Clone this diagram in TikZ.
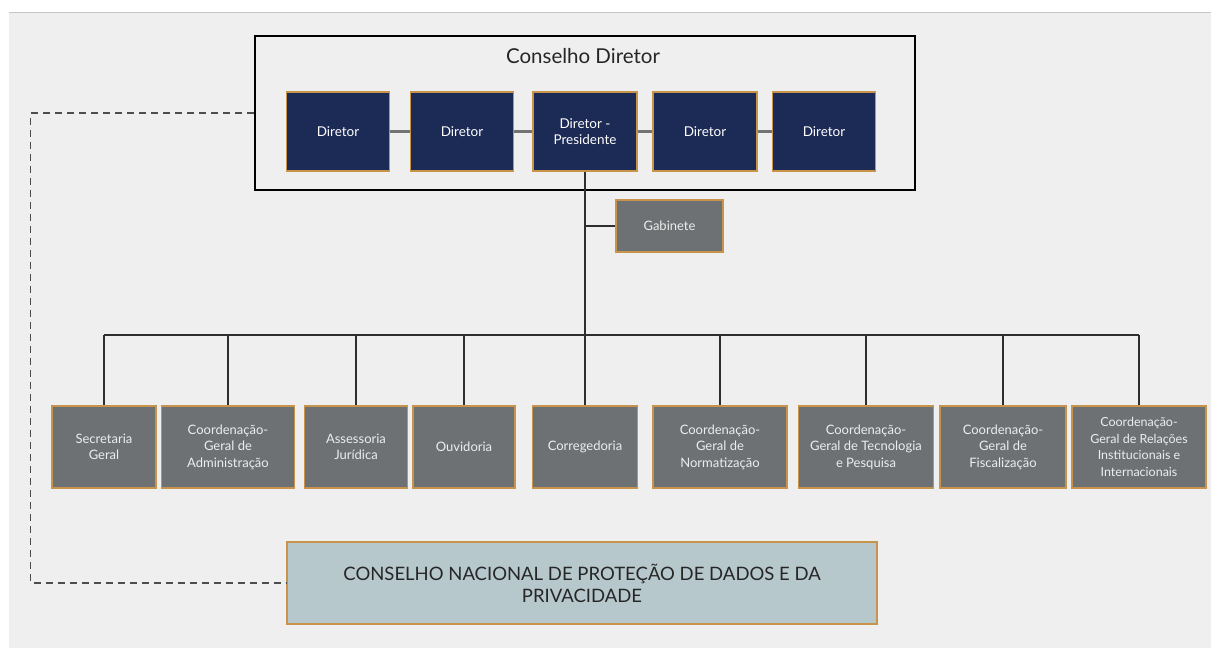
\documentclass[tikz,border=0pt]{standalone}
\usepackage{fontspec}
\setmainfont{Lato}
\definecolor{navy}{HTML}{1C2A56}
\definecolor{boxgray}{HTML}{6E7174}
\definecolor{gold}{HTML}{C8934A}
\definecolor{cnpdfill}{HTML}{B7C8CD}
\definecolor{panel}{HTML}{EFEFEF}
\definecolor{linedark}{HTML}{2E2E2E}
\begin{document}
\begin{tikzpicture}[x=1pt,y=-1pt,
  dirbox/.style={draw=gold,line width=1.2pt,fill=navy,text=white,inner sep=0pt,
    minimum width=103pt,minimum height=79pt,align=center,font=\fontsize{13.5}{16}\selectfont},
  unitbox/.style={draw=gold,line width=1.2pt,fill=boxgray,text=white!93!black,inner sep=0pt,
    minimum height=82pt,align=center,font=\fontsize{13}{16.5}\selectfont},
  conn/.style={draw=linedark,line width=1.6pt},
  dirconn/.style={draw=gray!90!black,line width=2.2pt},
  dashconn/.style={draw=linedark!85,line width=1.6pt,dash pattern=on 7pt off 5pt}]
\useasboundingbox (0,0) rectangle (1211,652);
\fill[white] (0,0) rectangle (1211,652);
\fill[panel] (9,12) rectangle (1211,648);
\draw[gray!45,line width=1.2pt] (9,12.5) -- (1211,12.5);

% Conselho Diretor
\node[draw=black,line width=2.8pt,minimum width=660pt,minimum height=154pt,inner sep=0pt] (cd) at (585,113) {};
\node[font=\fontsize{20.5}{24}\selectfont,text=black!85] (cdt) at (583,56) {Conselho Diretor};

\node[dirbox] (d1) at (338,131.5) {Diretor};
\node[dirbox] (d2) at (462,131.5) {Diretor};
\node[dirbox,minimum width=104pt] (dp) at (585,131.5) {Diretor -\\Presidente};
\node[dirbox,minimum width=104pt] (d4) at (705,131.5) {Diretor};
\node[dirbox] (d5) at (824,131.5) {Diretor};
\draw[dirconn] (d1) -- (d2);
\draw[dirconn] (d2) -- (dp);
\draw[dirconn] (dp) -- (d4);
\draw[dirconn] (d4) -- (d5);

% Gabinete
\node[unitbox,minimum width=107pt,minimum height=52pt] (gab) at (669.5,226) {Gabinete};

% bottom units
\node[unitbox,minimum width=104pt] (b1) at (104,447) {Secretaria\\Geral};
\node[unitbox,minimum width=133pt] (b2) at (228,447) {Coordenação-\\Geral de\\Administração};
\node[unitbox,minimum width=103pt] (b3) at (356,447) {Assessoria\\Jurídica};
\node[unitbox,minimum width=102pt] (b4) at (464,447) {Ouvidoria};
\node[unitbox,minimum width=105pt] (b5) at (585,447) {Corregedoria};
\node[unitbox,minimum width=134pt] (b6) at (720,447) {Coordenação-\\Geral de\\Normatização};
\node[unitbox,minimum width=135pt] (b7) at (866,447) {Coordenação-\\Geral de Tecnologia\\e Pesquisa};
\node[unitbox,minimum width=126pt] (b8) at (1003,447) {Coordenação-\\Geral de\\Fiscalização};
\node[unitbox,minimum width=134pt,font=\fontsize{12.5}{16.5}\selectfont] (b9) at (1139,447) {Coordenação-\\Geral de Relações\\Institucionais e\\Internacionais};

% CNPD
\node[draw=gold,line width=1.2pt,fill=cnpdfill,minimum width=590pt,minimum height=82pt,inner sep=0pt,
  align=center,text=black!85,font=\fontsize{18.5}{22}\selectfont] (cnpd) at (582,583)
  {CONSELHO NACIONAL DE PROTEÇÃO DE DADOS E DA\\PRIVACIDADE};

% connectors
\coordinate (bus) at (585,335);
\draw[conn] (dp.south) -- (bus);
\draw[conn] (dp.south |- gab.west) -- (gab.west);
\draw[conn] (b1.north |- bus) -- (b9.north |- bus);
\foreach \b in {b1,b2,b3,b4,b5,b6,b7,b8,b9}{
  \draw[conn] (\b.north |- bus) -- (\b.north);
}
\draw[dashconn] (cd.west) -- ++(-223,0) |- (cnpd.west);
\end{tikzpicture}
\end{document}
